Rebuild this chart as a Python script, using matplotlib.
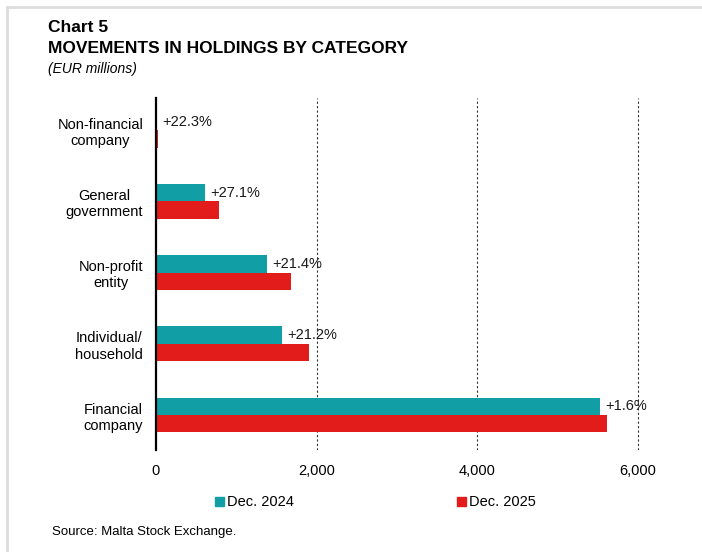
import matplotlib.pyplot as plt
from matplotlib.lines import Line2D
from matplotlib.patches import Patch
import numpy as np

plt.rcParams['font.family'] = ['Liberation Sans', 'DejaVu Sans']

# данные (снизу вверх)
categories = ['Financial\ncompany', 'Individual/\nhousehold', 'Non-profit\nentity',
              'General\ngovernment', 'Non-financial\ncompany']
dec_2024 = [5530, 1570, 1385, 615, 20]
dec_2025 = [5618, 1900, 1682, 782, 25]
changes = ['+1.6%', '+21.2%', '+21.4%', '+27.1%', '+22.3%']

teal = '#119ea4'
red = '#e21b1b'

fig = plt.figure(figsize=(7.02, 5.52), dpi=100)
ax = fig.add_axes([0.222, 0.185, 0.744, 0.637])

y = np.arange(len(categories))
bh = 0.245
ax.barh(y + bh / 2, dec_2024, bh, color=teal, label='Dec. 2024')
ax.barh(y - bh / 2, dec_2025, bh, color=red, label='Dec. 2025')

for i in range(len(categories)):
    ax.text(dec_2024[i] + 60, y[i] + bh / 2, changes[i], va='center', ha='left',
            fontsize=10.5, color='#1a1a1a')

ax.set_xlim(0, 6500)
ax.set_ylim(-0.49, 4.45)
ax.set_yticks(y)
ax.set_yticklabels(categories, fontsize=10.5, multialignment='center')
ax.set_xticks([0, 2000, 4000, 6000])
ax.set_xticklabels(['0', '2,000', '4,000', '6,000'], fontsize=10.5)
ax.tick_params(axis='y', length=0, pad=9)
ax.tick_params(axis='x', length=0, pad=10)

for s in ['top', 'right', 'bottom']:
    ax.spines[s].set_visible(False)
ax.spines['left'].set_linewidth(1.6)
for xv in [2000, 4000, 6000]:
    ax.axvline(xv, color='#333333', linestyle=(0, (2, 2)), linewidth=0.8, zorder=0)

handles = [Patch(color=teal), Patch(color=red)]
fig.legend(handles, ['Dec. 2024', 'Dec. 2025'], ncol=2, frameon=False,
           loc='center', bbox_to_anchor=(0.535, 0.09), fontsize=10.5,
           handlelength=0.6, handleheight=0.6, handletextpad=0.2, columnspacing=11.2)

fig.text(0.068, 0.95, 'Chart 5', fontsize=12.5, fontweight='bold', va='center')
fig.text(0.068, 0.913, 'MOVEMENTS IN HOLDINGS BY CATEGORY', fontsize=12.5,
         fontweight='bold', va='center')
fig.text(0.068, 0.875, '(EUR millions)', fontsize=10, style='italic', va='center')
fig.text(0.074, 0.036, 'Source: Malta Stock Exchange.', fontsize=9.5, va='center')

# серая рамка
fig.add_artist(Line2D([0.01, 1.0], [0.987, 0.987], color='#dddddd', linewidth=2))
fig.add_artist(Line2D([0.01, 0.01], [0.0, 0.987], color='#dddddd', linewidth=2))

plt.savefig('out.png', dpi=100)
